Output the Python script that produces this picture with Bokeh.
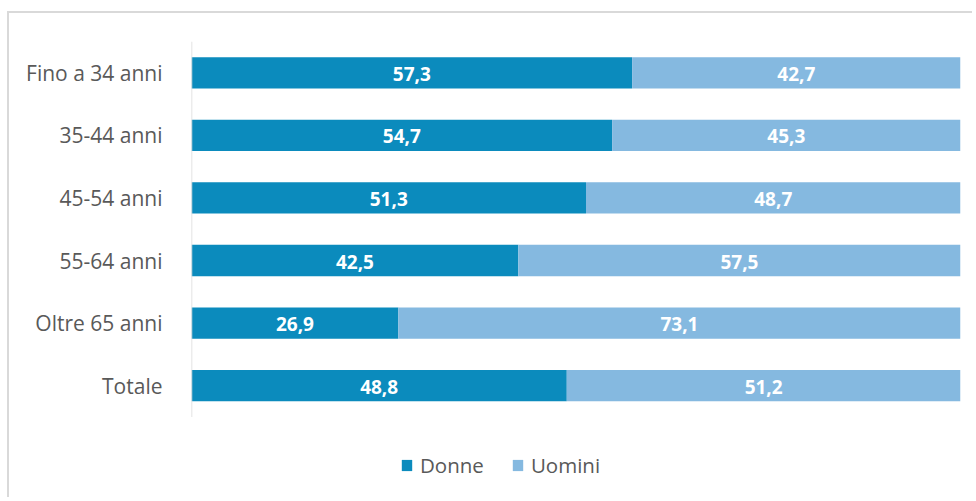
from bokeh.plotting import figure
from bokeh.models import ColumnDataSource, Range1d, LabelSet, FactorRange, Legend, LegendItem
from bokeh.core.properties import value
from bokeh.embed import file_html
from bokeh.resources import INLINE

categories = ["Fino a 34 anni", "35-44 anni", "45-54 anni", "55-64 anni", "Oltre 65 anni", "Totale"]
donne = [57.3, 54.7, 51.3, 42.5, 26.9, 48.8]
uomini = [42.7, 45.3, 48.7, 57.5, 73.1, 51.2]
series = ["Donne", "Uomini"]
colors = ["#0B8BBD", "#85B9E0"]

def fmt(v):
    return f"{v:.1f}".replace(".", ",")

source = ColumnDataSource(dict(cat=categories, Donne=donne, Uomini=uomini))

lab_x = [d / 2 for d in donne] + [d + u / 2 for d, u in zip(donne, uomini)]
lab_y = categories + categories
lab_t = [fmt(v) for v in donne] + [fmt(v) for v in uomini]
lab_src = ColumnDataSource(dict(x=lab_x, y=lab_y, t=lab_t))

# extra blank factor at the bottom holds the legend area
factors = [" "] + list(reversed(categories))

p = figure(width=965, height=486, y_range=FactorRange(factors=factors),
           x_range=Range1d(0, 100), output_backend="svg", toolbar_location=None,
           min_border_left=182, min_border_right=14, min_border_top=28, min_border_bottom=20)
p.styles = {"margin-top": "11px", "margin-left": "7px",
            "border-top": "2px solid #d9d9d9", "border-left": "2px solid #d9d9d9"}

rs = p.hbar_stack(series, y="cat", height=0.5, color=colors, line_color=None, source=source)

# axis line covering only the category rows
p.segment(x0=[0], y0=[(categories[-1], -0.5)], x1=[0], y1=[(categories[0], 0.5)],
          line_color="#d9d9d9", line_width=1.5)

labels = LabelSet(x="x", y="y", text="t", source=lab_src, text_align="center",
                  text_baseline="middle", text_color="white", text_font=value("Open Sans"),
                  text_font_style="bold", text_font_size="19px", y_offset=-1)
p.add_layout(labels)

p.xaxis.visible = False
p.grid.visible = False
p.outline_line_color = None
p.background_fill_color = "white"
p.border_fill_color = "white"

ax = p.yaxis[0]
ax.axis_line_color = None
ax.major_tick_line_color = None
ax.minor_tick_line_color = None
ax.major_tick_out = 0
ax.major_tick_in = 0
ax.major_label_standoff = 29
ax.major_label_text_font = "Open Sans"
ax.major_label_text_font_size = "21px"
ax.major_label_text_color = "#595959"

lg = Legend(items=[LegendItem(label=s, renderers=[r]) for s, r in zip(series, rs)])
lg.orientation = "horizontal"
lg.location = (209, 0)
lg.margin = 0
lg.padding = 0
lg.spacing = 27
lg.border_line_color = None
lg.background_fill_alpha = 0
lg.glyph_width = 13
lg.glyph_height = 14
lg.label_height = 14
lg.label_standoff = 7
lg.label_text_font = "Open Sans"
lg.label_text_font_size = "20.5px"
lg.label_text_color = "#595959"
lg.label_text_baseline = "middle"
p.add_layout(lg)

open("out.html", "w").write(file_html(p, INLINE))
